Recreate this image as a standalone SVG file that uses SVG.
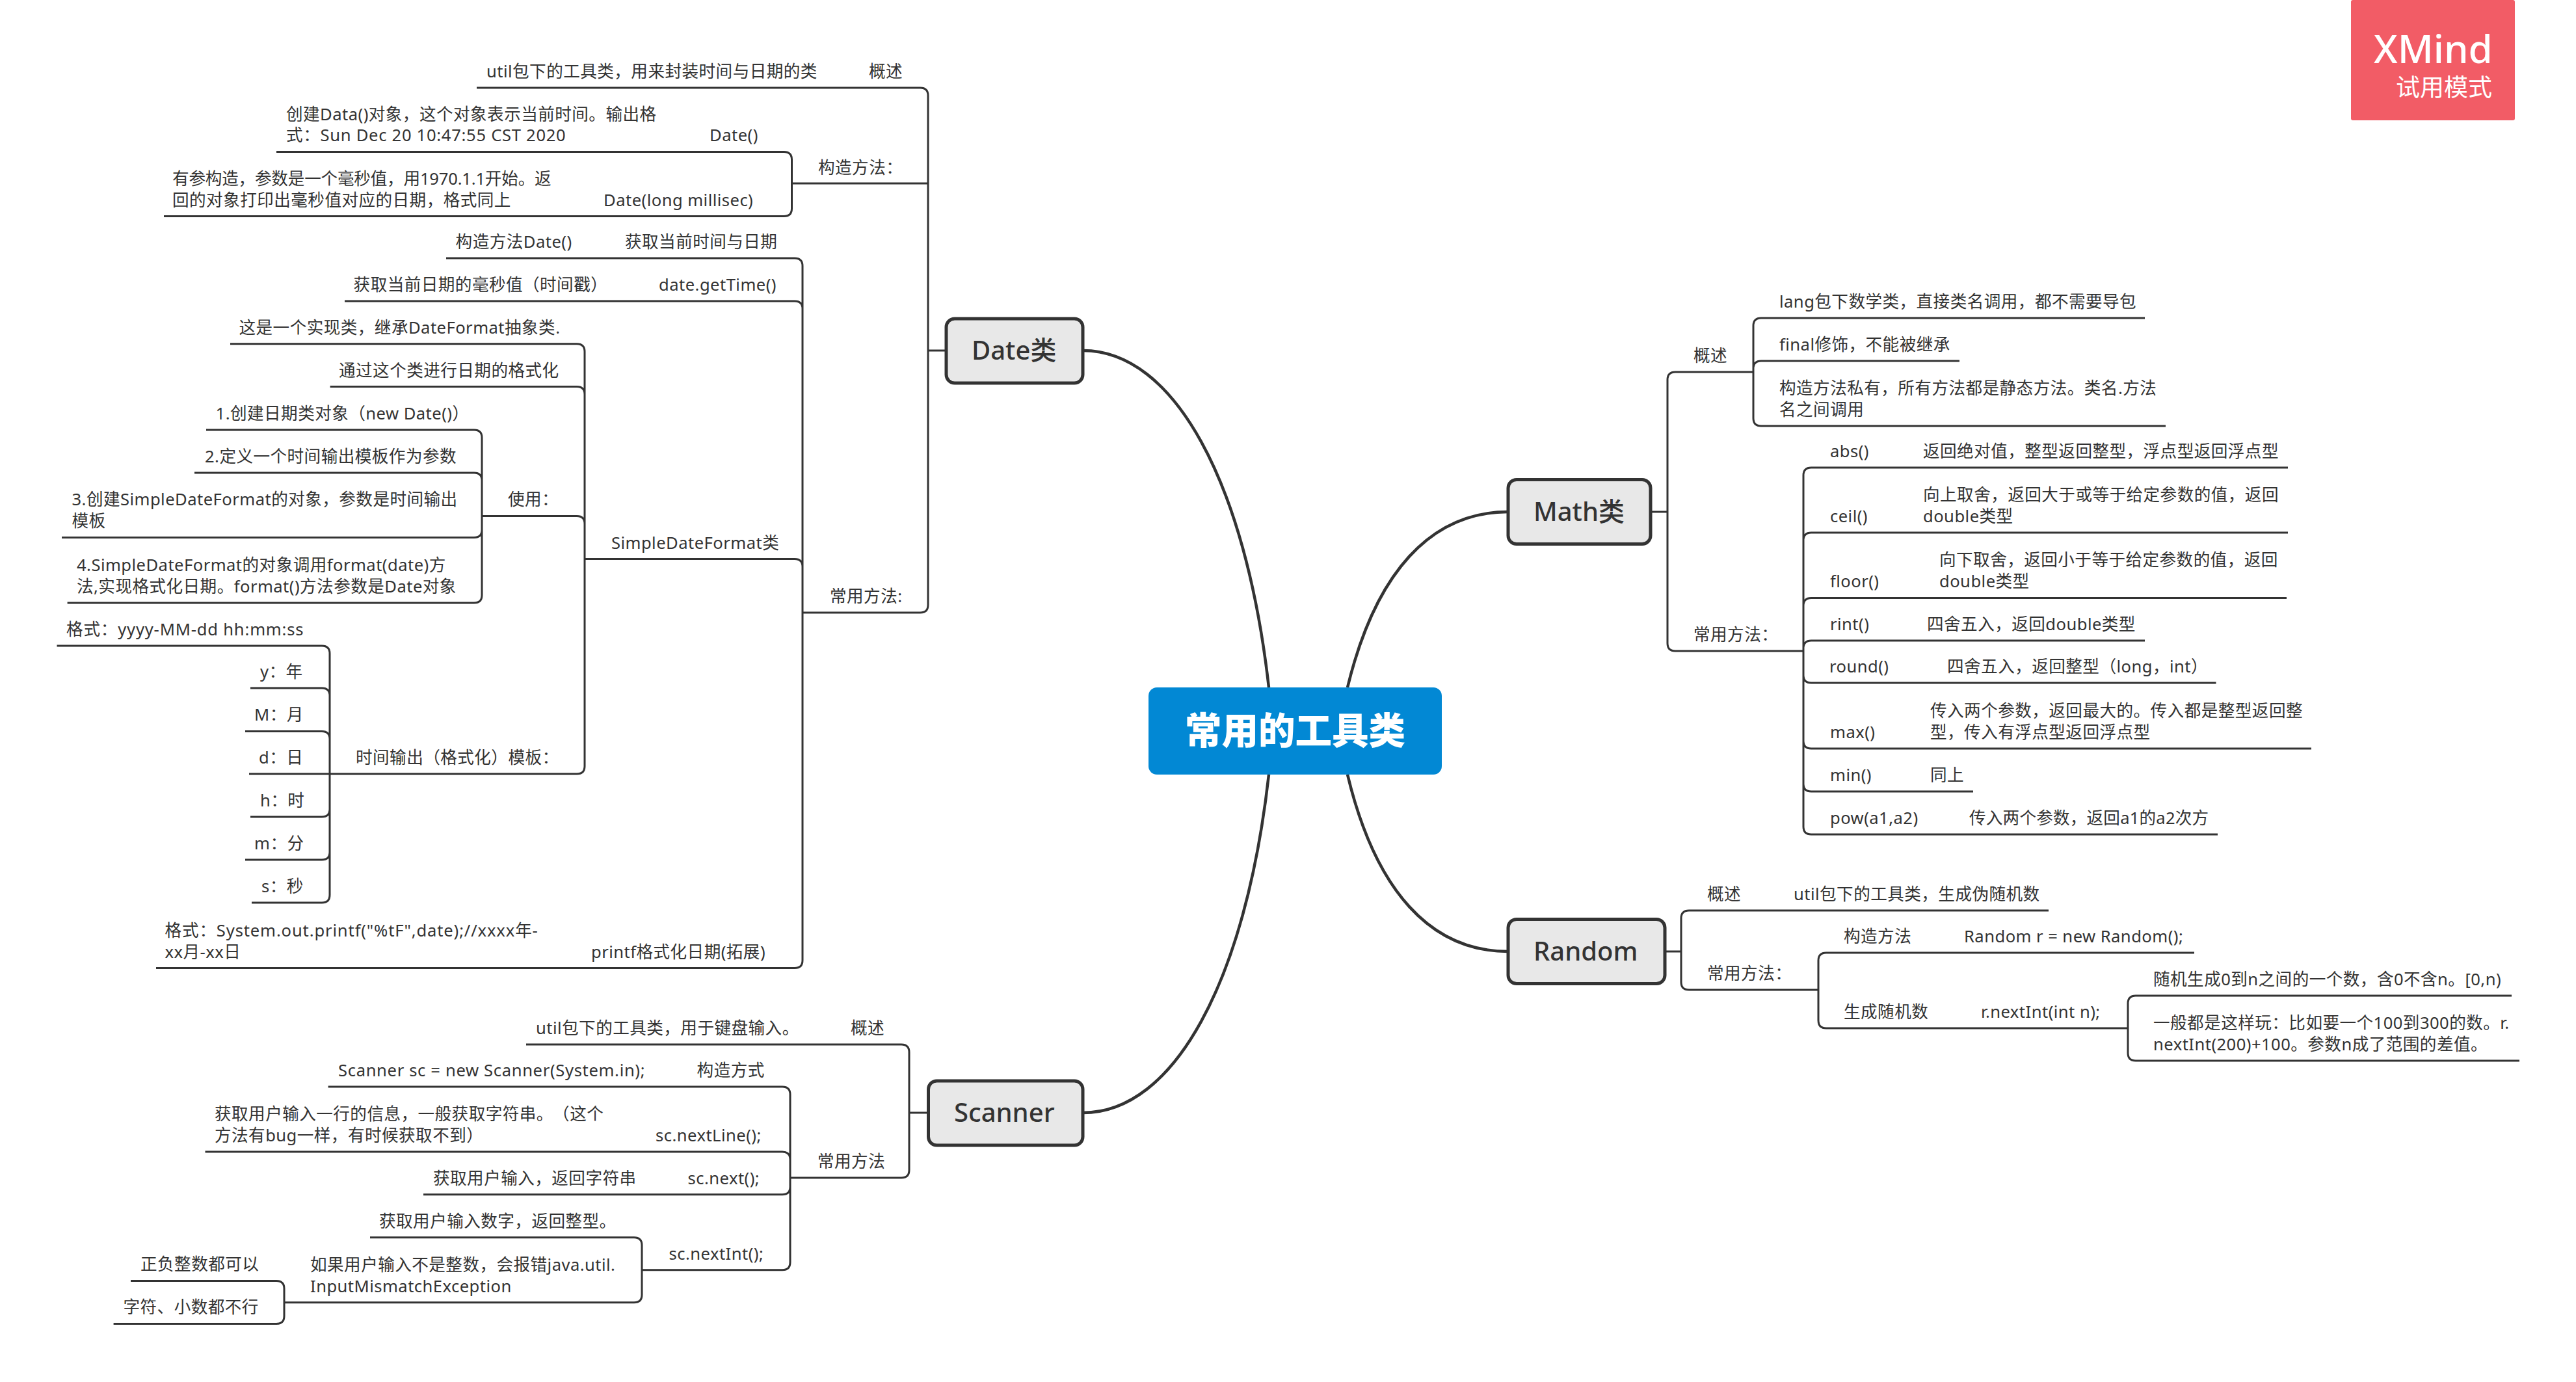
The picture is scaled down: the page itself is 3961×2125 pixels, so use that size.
<svg xmlns="http://www.w3.org/2000/svg" width="3961" height="2125" viewBox="0 0 3961 2125">
<style>
text{font-family:"Noto Sans","Noto Sans CJK SC",sans-serif;fill:#333}
.t{font-size:25.6px;letter-spacing:.45px}
.n{font-size:40px;font-weight:500}
.l{fill:none;stroke:#333;stroke-width:3}
.c{fill:none;stroke:#333;stroke-width:4.5}
.b{fill:#e8e8e8;stroke:#333;stroke-width:5}
</style>
<rect width="3961" height="2125" fill="#fff"/>
<g id="connectors">
<path class="c" d="M1951,1057C1915,740 1805,539 1665,539"/>
<path class="c" d="M2072,1057C2115,880 2200,787 2319,787"/>
<path class="c" d="M1951,1191C1915,1510 1805,1711 1665,1711"/>
<path class="c" d="M2072,1191C2115,1370 2200,1463 2319,1463"/>
<path class="l" d="M1427,539H1455M1217.5,282H1427M733,135H1415Q1427,135 1427,147V930Q1427,942 1415,942H1234"/>
<path class="l" d="M425,233.6H1205.5Q1217.5,233.6 1217.5,245.6V320.6Q1217.5,332.6 1205.5,332.6H252"/>
<path class="l" d="M686,397H1222Q1234,397 1234,409V1476.6Q1234,1488.6 1222,1488.6H240M530,463H1222Q1234,463 1234,475M899,859.5H1222Q1234,859.5 1234,871.5"/>
<path class="l" d="M354,528.7H887Q899,528.7 899,540.7V1178Q899,1190 887,1190H507M507.6,594.5H887Q899,594.5 899,606.5M741,793.4H887Q899,793.4 899,805.4"/>
<path class="l" d="M317,661H729Q741,661 741,673V915Q741,927 729,927H103.6M299,727H729Q741,727 741,739M95,826.4H729Q741,826.4 741,814.4"/>
<path class="l" d="M87.5,993H495Q507,993 507,1005V1376Q507,1388 495,1388H387M385,1058H495Q507,1058 507,1070M377,1124.5H495Q507,1124.5 507,1136.5M383,1190H507M385,1256H495Q507,1256 507,1244M377,1322H495Q507,1322 507,1310"/>
<path class="l" d="M1398,1711H1427M809,1606H1386Q1398,1606 1398,1618V1799Q1398,1811 1386,1811H1215"/>
<path class="l" d="M504.6,1671H1203Q1215,1671 1215,1683V1940.7Q1215,1952.7 1203,1952.7H987M315.5,1771H1203Q1215,1771 1215,1783M651,1836.7H1203Q1215,1836.7 1215,1824.7"/>
<path class="l" d="M569,1902.7H975Q987,1902.7 987,1914.7V1990.7Q987,2002.7 975,2002.7H437"/>
<path class="l" d="M201,1969.5H425Q437,1969.5 437,1981.5V2023.5Q437,2035.5 425,2035.5H174.6"/>
<path class="l" d="M2538,787H2564M2696,572H2576Q2564,572 2564,584V989Q2564,1001 2576,1001H2773"/>
<path class="l" d="M3298,489H2708Q2696,489 2696,501V643Q2696,655 2708,655H3330M3013,555H2708Q2696,555 2696,567"/>
<path class="l" d="M3518,719H2785Q2773,719 2773,731V1271Q2773,1283 2785,1283H3410M3518,819H2785Q2773,819 2773,831M3516,919.4H2785Q2773,919.4 2773,931.4M3298,985H2785Q2773,985 2773,997M3407.5,1050H2785Q2773,1050 2773,1038M3554,1151H2785Q2773,1151 2773,1139M3034,1217H2785Q2773,1217 2773,1205"/>
<path class="l" d="M2560,1463H2585M3150,1400H2597Q2585,1400 2585,1412V1510Q2585,1522 2597,1522H2796"/>
<path class="l" d="M3374,1465H2808Q2796,1465 2796,1477V1569Q2796,1581 2808,1581H3272"/>
<path class="l" d="M3862,1531H3284Q3272,1531 3272,1543V1619Q3272,1631 3284,1631H3874"/>
</g>
<g id="central"><rect x="1766" y="1057" width="451" height="134" rx="13" fill="#0288d4"/><text x="1991.5" y="1144" text-anchor="middle" style="fill:#fff;font-size:56.5px;font-weight:900">常用的工具类</text></g>
<g id="date"><rect class="b" x="1455" y="490" width="210" height="99" rx="13"/><text class="n" x="1494" y="553">Date类</text></g>
<g id="math"><rect class="b" x="2319" y="737.5" width="219" height="99" rx="13"/><text class="n" x="2358" y="801">Math类</text></g>
<g id="random"><rect class="b" x="2319" y="1413.5" width="241" height="99" rx="13"/><text class="n" x="2358" y="1477">Random</text></g>
<g id="scanner"><rect class="b" x="1427.5" y="1662" width="237.5" height="99" rx="13"/><text class="n" x="1467" y="1725">Scanner</text></g>
<g id="date-topics" class="t" transform="translate(0 1)">
<text x="1336" y="118">概述</text>
<text x="748" y="118">util包下的工具类，用来封装时间与日期的类</text>
<text x="1258" y="266">构造方法：</text>
<text x="440" y="184">创建Data()对象，这个对象表示当前时间。输出格</text>
<text x="440" y="216" style="letter-spacing:.7px">式：Sun Dec 20 10:47:55 CST 2020</text>
<text x="1091" y="216">Date()</text>
<text x="265" y="283" style="letter-spacing:-.2px">有参构造，参数是一个毫秒值，用1970.1.1开始。返</text>
<text x="265" y="316">回的对象打印出毫秒值对应的日期，格式同上</text>
<text x="928" y="316">Date(long millisec)</text>
<text x="700.6" y="380">构造方法Date()</text>
<text x="961" y="380">获取当前时间与日期</text>
<text x="543.6" y="446">获取当前日期的毫秒值（时间戳）</text>
<text x="1013" y="446">date.getTime()</text>
<text x="1276" y="925">常用方法:</text>
<text x="367.5" y="512">这是一个实现类，继承DateFormat抽象类.</text>
<text x="521" y="578">通过这个类进行日期的格式化</text>
<text x="940" y="843">SimpleDateFormat类</text>
<text x="781" y="776">使用：</text>
<text x="331.6" y="644">1.创建日期类对象（new Date()）</text>
<text x="315" y="710">2.定义一个时间输出模板作为参数</text>
<text x="110.5" y="776">3.创建SimpleDateFormat的对象，参数是时间输出</text>
<text x="110.5" y="809">模板</text>
<text x="118" y="877">4.SimpleDateFormat的对象调用format(date)方</text>
<text x="118" y="910">法,实现格式化日期。format()方法参数是Date对象</text>
<text x="102" y="976" style="letter-spacing:.8px">格式：yyyy-MM-dd hh:mm:ss</text>
<text x="400" y="1041">y：年</text>
<text x="391" y="1107">M：月</text>
<text x="398" y="1173">d：日</text>
<text x="400" y="1239">h：时</text>
<text x="391" y="1305">m：分</text>
<text x="402" y="1371">s：秒</text>
<text x="547" y="1173">时间输出（格式化）模板：</text>
<text x="253.5" y="1439" style="letter-spacing:.85px">格式：System.out.printf("%tF",date);//xxxx年-</text>
<text x="253.5" y="1472">xx月-xx日</text>
<text x="909" y="1472">printf格式化日期(拓展)</text>
</g>
<g id="scanner-topics" class="t" transform="translate(0 1)">
<text x="1308" y="1589">概述</text>
<text x="824" y="1589">util包下的工具类，用于键盘输入。</text>
<text x="520" y="1654" style="letter-spacing:.65px">Scanner sc = new Scanner(System.in);</text>
<text x="1071.6" y="1654">构造方式</text>
<text x="330" y="1721">获取用户输入一行的信息，一般获取字符串。<tspan dx="12">（这个</tspan></text>
<text x="330" y="1754">方法有bug一样，有时候获取不到）</text>
<text x="1008" y="1754">sc.nextLine();</text>
<text x="1057.5" y="1820">sc.next();</text>
<text x="666" y="1820">获取用户输入，返回字符串</text>
<text x="583" y="1886">获取用户输入数字，返回整型。</text>
<text x="1028.5" y="1936">sc.nextInt();</text>
<text x="477" y="1953">如果用户输入不是整数，会报错java.util.</text>
<text x="477" y="1986">InputMismatchException</text>
<text x="216" y="1952">正负整数都可以</text>
<text x="189.5" y="2018">字符、小数都不行</text>
<text x="1257" y="1794">常用方法</text>
</g>
<g id="math-topics" class="t" transform="translate(0 1)">
<text x="2604" y="555">概述</text>
<text x="2736" y="472">lang包下数学类，直接类名调用，都不需要导包</text>
<text x="2736" y="538">final修饰，不能被继承</text>
<text x="2736" y="605">构造方法私有，所有方法都是静态方法。类名.方法</text>
<text x="2736" y="638">名之间调用</text>
<text x="2604" y="984">常用方法：</text>
<text x="2814" y="702">abs()</text>
<text x="2957" y="702">返回绝对值，整型返回整型，浮点型返回浮点型</text>
<text x="2814" y="802">ceil()</text>
<text x="2957" y="769">向上取舍，返回大于或等于给定参数的值，返回</text>
<text x="2957" y="802">double类型</text>
<text x="2814" y="902">floor()</text>
<text x="2982" y="869">向下取舍，返回小于等于给定参数的值，返回</text>
<text x="2982" y="902">double类型</text>
<text x="2814" y="968">rint()</text>
<text x="2963" y="968">四舍五入，返回double类型</text>
<text x="2813" y="1033">round()</text>
<text x="2994" y="1033">四舍五入，返回整型（long，int）</text>
<text x="2814" y="1134">max()</text>
<text x="2968" y="1101">传入两个参数，返回最大的。传入都是整型返回整</text>
<text x="2968" y="1134">型，传入有浮点型返回浮点型</text>
<text x="2814" y="1200">min()</text>
<text x="2968" y="1200">同上</text>
<text x="2814" y="1266">pow(a1,a2)</text>
<text x="3028" y="1266" style="letter-spacing:.2px">传入两个参数，返回a1的a2次方</text>
</g>
<g id="random-topics" class="t" transform="translate(0 1)">
<text x="2625" y="1383">概述</text>
<text x="2758" y="1383">util包下的工具类，生成伪随机数</text>
<text x="2625" y="1505">常用方法：</text>
<text x="2835" y="1448">构造方法</text>
<text x="3020" y="1448">Random r = new Random();</text>
<text x="2835" y="1564">生成随机数</text>
<text x="3046" y="1564">r.nextInt(int n);</text>
<text x="3311" y="1514">随机生成0到n之间的一个数，含0不含n。[0,n)</text>
<text x="3311" y="1581">一般都是这样玩：比如要一个100到300的数。r.</text>
<text x="3311" y="1614">nextInt(200)+100。参数n成了范围的差值。</text>
</g>
<g id="logo"><rect x="3615" y="0" width="252" height="185" rx="3" fill="#f25c66"/><text x="3650" y="97" style="fill:#fff;font-size:60px;font-weight:500">XMind</text><text x="3684" y="148" style="fill:#fff;font-size:37px">试用模式</text></g>
</svg>
